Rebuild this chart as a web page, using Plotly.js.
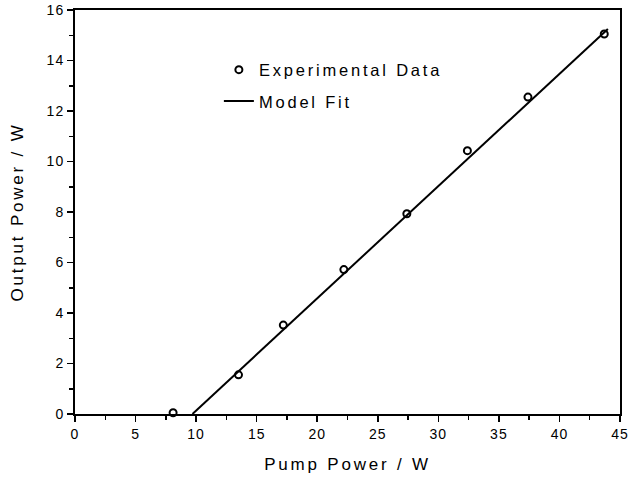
<!DOCTYPE html>
<html>
<head>
<meta charset="utf-8">
<script src="https://cdn.plot.ly/plotly-3.0.1.min.js"></script>
<style>
html, body { margin: 0; padding: 0; background: #fff; }
#chart { width: 629px; height: 478px; }
.xtitle, .ytitle { letter-spacing: 2.8px; }
.legendtext { letter-spacing: 2.8px; }
.xtick text, .ytick text { letter-spacing: 1px; }
</style>
</head>
<body>
<div id="chart"></div>
<script>
// Experimental data
const pumpPower = [8.1, 13.5, 17.2, 22.2, 27.4, 32.4, 37.4, 43.7];
const outputPower = [0.05, 1.55, 3.52, 5.72, 7.93, 10.43, 12.55, 15.05];
// Model fit line endpoints
const fitPump = [9.7, 44.0];
const fitOutput = [0.0, 15.25];
// Axis ticks
const xTicks = [0, 5, 10, 15, 20, 25, 30, 35, 40, 45];
const yTicks = [0, 2, 4, 6, 8, 10, 12, 14, 16];

const font = 'Liberation Sans, Arial, Helvetica, sans-serif';

const traces = [
  {
    x: pumpPower, y: outputPower, type: 'scatter', mode: 'markers',
    name: 'Experimental Data', legendgroup: 'a',
    marker: { symbol: 'circle-open', size: 7, color: '#000', line: { width: 2, color: '#000' } },
    cliponaxis: false
  },
  {
    x: fitPump, y: fitOutput, type: 'scatter', mode: 'lines',
    name: 'Model Fit', legendgroup: 'b',
    line: { color: '#000', width: 2 },
    cliponaxis: false
  }
];

const layout = {
  width: 629, height: 478,
  margin: { l: 75, r: 9, t: 10, b: 64 },
  paper_bgcolor: '#fff', plot_bgcolor: '#fff',
  font: { family: font, color: '#000', size: 14 },
  showlegend: true,
  legend: {
    x: 0.264, y: 0.895, xanchor: 'left', yanchor: 'top',
    bgcolor: 'rgba(0,0,0,0)', borderwidth: 0,
    font: { family: font, size: 16.5, color: '#000' },
    traceorder: 'grouped', tracegroupgap: 7
  },
  xaxis: {
    range: [0, 45], tickvals: xTicks, ticktext: xTicks.map(String),
    ticks: 'outside', ticklen: 6, tickwidth: 1.5, tickcolor: '#000',
    showline: true, linewidth: 2, linecolor: '#000', mirror: true,
    showgrid: false, zeroline: false,
    tickfont: { family: font, size: 14, color: '#000' },
    minor: { dtick: 2.5, tick0: 0, ticks: 'outside', ticklen: 4, tickwidth: 1.5, tickcolor: '#000', showgrid: false },
    title: { text: 'Pump Power / W', font: { family: font, size: 17, color: '#000' }, standoff: 17 }
  },
  yaxis: {
    range: [0, 16], tickvals: yTicks, ticktext: yTicks.map(String),
    ticks: 'outside', ticklen: 6, tickwidth: 1.5, tickcolor: '#000',
    showline: true, linewidth: 2, linecolor: '#000', mirror: true,
    showgrid: false, zeroline: false,
    tickfont: { family: font, size: 14, color: '#000' },
    minor: { dtick: 1, tick0: 0, ticks: 'outside', ticklen: 4, tickwidth: 1.5, tickcolor: '#000', showgrid: false },
    title: { text: 'Output Power / W', font: { family: font, size: 17, color: '#000' }, standoff: 19 }
  }
};

Plotly.newPlot('chart', traces, layout, { displayModeBar: false, staticPlot: true });
</script>
</body>
</html>
